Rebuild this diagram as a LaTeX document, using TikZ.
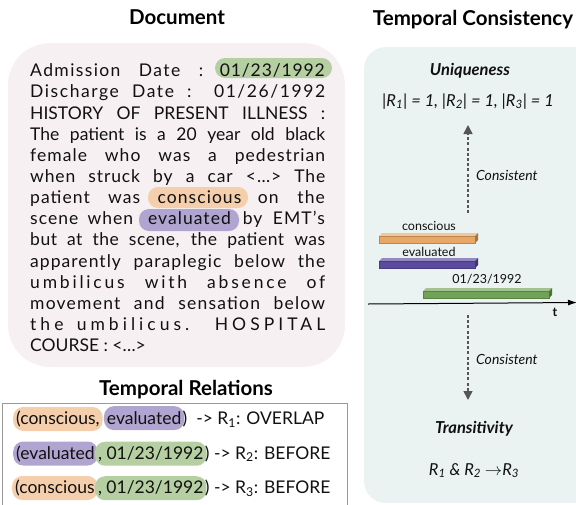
\documentclass[tikz,border=0pt]{standalone}
\usepackage{fontspec}
\setmainfont{Lato}
\usetikzlibrary{arrows.meta}
\definecolor{docbg}{HTML}{F6F0F2}
\definecolor{panelbg}{HTML}{EAF3F2}
\definecolor{hlgreen}{HTML}{B5CEA2}
\definecolor{hlorange}{HTML}{F5CFAB}
\definecolor{hlpurple}{HTML}{B0A5D0}
\definecolor{barorange}{HTML}{E9A766}
\definecolor{barpurple}{HTML}{5B4B9E}
\definecolor{bargreen}{HTML}{70A356}
\definecolor{arrowgray}{HTML}{555555}
\definecolor{txt}{HTML}{111111}
\newcommand\tlbar[5]{%
  \fill[#5!65!white] (#1,#3+3) -- (#1+3,#3) -- (#2+3,#3) -- (#2,#3+3) -- cycle;
  \fill[#5, draw=#5!80!black, line width=0.4pt] (#1,#3+3) rectangle (#2,#4);
  \fill[#5!70!black] (#2,#3+3) -- (#2+3,#3) -- (#2+3,#4-3) -- (#2,#4) -- cycle;
}
% justified line: letter spacing #1, width #2, text #3
\newcommand\jline[3]{{\addfontfeature{LetterSpace=#1}\makebox[#2][s]{#3}}}
\newcommand\lsp[2]{{\addfontfeature{LetterSpace=#1}#2}}
\begin{document}
\begin{tikzpicture}[x=1pt,y=-1pt,
  title/.style={font=\fontsize{20.5}{24}\selectfont\bfseries, anchor=base, inner sep=0pt},
  docline/.style={font=\fontsize{17.5}{21}\selectfont, anchor=base west, inner sep=0pt, text=txt},
  docright/.style={docline, anchor=base east},
  dochl/.style={rounded corners=10pt, inner sep=0pt},
  rel/.style={font=\fontsize{17.5}{21}\selectfont, text=txt, inner xsep=3pt, inner ysep=0pt, minimum height=24pt, rounded corners=10pt, anchor=base west},
  small/.style={font=\fontsize{12.5}{15}\selectfont, text=txt, anchor=base, inner sep=0pt},
  cons/.style={font=\fontsize{14}{16}\selectfont\itshape, text=txt, anchor=base west, inner sep=0pt},
  head/.style={font=\fontsize{16.5}{19}\selectfont\bfseries\itshape, text=txt, anchor=base, inner sep=0pt},
  formula/.style={font=\fontsize{16.5}{19}\selectfont\itshape, text=txt, anchor=base, inner sep=0pt},
  cflow/.style={draw=arrowgray, line width=1.6pt, dash pattern=on 3pt off 2.2pt, -{Triangle[width=9pt,length=9pt]}},
]
\useasboundingbox (0,0) rectangle (576,504);

% ---------- Document ----------
\node[title] (tdoc) at (177,24) {Document};
\fill[docbg, rounded corners=42pt] (8,43) rectangle (345,367);

\node[dochl, fill=hlgreen, minimum width=117pt, minimum height=20pt] (hdate) at (273.5,68) {};
\node[dochl, fill=hlorange, minimum width=100pt, minimum height=21pt] (hcons) at (198,197.5) {};
\node[dochl, fill=hlpurple, minimum width=100pt, minimum height=22pt] (heval) at (189,220) {};

\node[docline] (l1a) at (30,76.7) {\jline{8}{173pt}{Admission Date :}};
\node[docright] (l1b) at (325,76.7) {\lsp{5}{01/23/1992}};
\node[docline] (l2) at (30,97.85) {\jline{9}{295pt}{Discharge Date : 01/26/1992}};
\node[docline] (l3) at (30,119.0) {\jline{0}{295pt}{HISTORY OF PRESENT ILLNESS :}};
\node[docline] (l4) at (30,140.15) {\jline{0}{295pt}{The patient is a 20 year old black}};
\node[docline] (l5) at (30,161.3) {\jline{6}{295pt}{female who was a pedestrian}};
\node[docline] (l6) at (30,182.45) {\jline{5}{295pt}{when struck by a car <…> The}};
\node[docline] (l7a) at (30,203.6) {\jline{6}{110pt}{patient was}};
\node[docline, anchor=base] (l7b) at (199.5,203.6) {\lsp{6}{conscious}};
\node[docright] (l7c) at (325,203.6) {\jline{6}{67pt}{on the}};
\node[docline] (l8a) at (30,224.75) {\jline{6}{103pt}{scene when}};
\node[docline, anchor=base] (l8b) at (189.5,224.75) {\lsp{6}{evaluated}};
\node[docright] (l8c) at (325,224.75) {\jline{6}{82pt}{by EMT’s}};
\node[docline] (l9) at (30,245.9) {\jline{3}{295pt}{but at the scene, the patient was}};
\node[docline] (l10) at (30,267.05) {\jline{6}{295pt}{apparently paraplegic below the}};
\node[docline] (l11) at (30,288.2) {\jline{16}{295pt}{umbilicus with absence of}};
\node[docline] (l12) at (30,309.35) {\jline{7}{295pt}{movement and sensation below}};
\node[docline] (l13) at (30,330.5) {\jline{23}{295pt}{the umbilicus. HOSPITAL}};
\node[docline] (l14) at (30,351.65) {COURSE : <…>};

% ---------- Temporal Relations ----------
\node[title] (trel) at (186,395) {Temporal Relations};
\draw[black!40, line width=0.9pt] (2,520) -- (2,403) -- (347,403) -- (347,520);

\node[rel, fill=hlorange] (r1a) at (13,424.5) {(conscious,};
\node[rel, fill=hlpurple] (r1b) at ([xshift=1pt]r1a.base east) {evaluated};
\node[rel, inner xsep=1pt] (r1c) at ([xshift=-3pt]r1b.base east) {)\ \ -> R\textsubscript{1}: OVERLAP};

\node[rel, fill=hlpurple] (r2a) at (13,459) {(evaluated};
\node[rel, fill=hlgreen] (r2b) at ([xshift=-3pt]r2a.base east) {, 01/23/1992};
\node[rel, inner xsep=1pt] (r2c) at ([xshift=-3pt]r2b.base east) {) -> R\textsubscript{2}: BEFORE};

\node[rel, fill=hlorange] (r3a) at (12,493.5) {(conscious};
\node[rel, fill=hlgreen] (r3b) at ([xshift=-3pt]r3a.base east) {, 01/23/1992};
\node[rel, inner xsep=1pt] (r3c) at ([xshift=-3pt]r3b.base east) {) -> R\textsubscript{3}: BEFORE};

% ---------- Temporal Consistency ----------
\node[title] (tcon) at (473,25.7) {Temporal Consistency};
\fill[panelbg, rounded corners=22pt] (364,47) rectangle (620,503);

\node[head] (uniq) at (470,75) {Uniqueness};
\node[formula] (uform) at (468,106) {|R\textsubscript{1}| = 1, |R\textsubscript{2}| = 1, |R\textsubscript{3}| = 1};

\coordinate (upS) at (468,213);
\coordinate (upE) at (468,125);
\draw[cflow] (upS) -- (upE);
\node[cons] (c1) at (476,180) {Consistent};

\node[small] (lcons) at (429,230) {conscious};
\tlbar{379}{475}{233}{243}{barorange}
\node[small] (leval) at (429,256) {evaluated};
\tlbar{379}{475}{258}{268}{barpurple}
\node[small] (ldate) at (487,283) {01/23/1992};
\tlbar{423}{549}{288}{298}{bargreen}

\coordinate (ax0) at (368,304);
\coordinate (ax1) at (577,302.5);
\draw[line width=1pt, -{Latex[length=9pt,width=6pt]}] (ax0) -- (ax1);
\node[font=\fontsize{12.5}{15}\selectfont\bfseries, text=txt, anchor=base, inner sep=0pt] (tlab) at (555,316) {t};

\coordinate (dnS) at (468,315);
\coordinate (dnE) at (468,400);
\draw[cflow] (dnS) -- (dnE);
\node[cons] (c2) at (476,364) {Consistent};

\node[head] (trans) at (474,433) {Transitivity};
\node[formula] (tform) at (474,475) {R\textsubscript{1} \& R\textsubscript{2} $\rightarrow$R\textsubscript{3}};
\end{tikzpicture}
\end{document}
